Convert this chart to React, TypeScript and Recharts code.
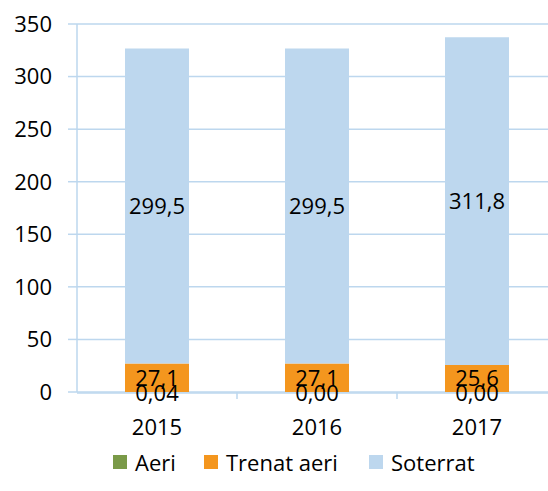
import { BarChart, Bar, XAxis, YAxis, CartesianGrid, LabelList } from "recharts";

const years = ["2015", "2016", "2017"];
const aeri = [0.04, 0, 0];
const trenatAeri = [27.1, 27.1, 25.6];
const soterrat = [299.5, 299.5, 311.8];
const yTicks = [0, 50, 100, 150, 200, 250, 300, 350];

const data = years.map((year, i) => ({
  year,
  pos: i + 0.5,
  aeri: aeri[i],
  trenat: trenatAeri[i],
  soterrat: soterrat[i]
}));

const font = "'Open Sans', Lato, sans-serif";
const gridColor = "#BDD7EE";
const textColor = "#000";
const fontSize = 22;

const series = [
  { key: "aeri", name: "Aeri", color: "#7A9A48" },
  { key: "trenat", name: "Trenat aeri", color: "#F4961E" },
  { key: "soterrat", name: "Soterrat", color: "#BDD7EE" }
];

const fmt = (digits: number) => (v: any) => Number(v).toFixed(digits).replace(".", ",");

// aeri is ~0, so its label is drawn at the foot of the orange segment
function AeriLabel(props: any) {
  const { x, y, width, height, index } = props;
  return (
    <text
      x={x + width / 2}
      y={y + height}
      textAnchor="middle"
      dominantBaseline="central"
      fill={textColor}
      fontSize={fontSize}
    >
      {fmt(2)(aeri[index])}
    </text>
  );
}

function BoundTick(props: any) {
  const { x, y } = props;
  return <line x1={x} x2={x} y1={y} y2={y + 7} stroke={gridColor} strokeWidth={1.5} />;
}

function LegendRow() {
  const lefts = [113, 204, 369];
  return (
    <div style={{ fontFamily: font, fontSize, color: textColor }}>
      {series.map((s, i) => (
        <div
          key={s.key}
          style={{
            position: "absolute",
            left: lefts[i],
            top: 447,
            height: 30,
            display: "flex",
            alignItems: "center",
            whiteSpace: "nowrap"
          }}
        >
          <span style={{ width: 14, height: 14, background: s.color, marginRight: 8 }} />
          <span>{s.name}</span>
        </div>
      ))}
    </div>
  );
}

export default function App() {
  return (
    <div
      style={{
        position: "absolute",
        left: 0,
        top: 0,
        width: 548,
        height: 491,
        overflow: "hidden",
        background: "#fff"
      }}
    >
      <BarChart
        width={560}
        height={491}
        data={data}
        margin={{ top: 24, right: 3, left: 0, bottom: 58 }}
        barCategoryGap="30%"
        style={{ fontFamily: font }}
      >
        <CartesianGrid vertical={false} stroke={gridColor} strokeWidth={1.5} />
        <XAxis
          xAxisId="bounds"
          type="number"
          dataKey="pos"
          domain={[0, 3]}
          ticks={[1, 2]}
          height={1}
          axisLine={false}
          tickLine={false}
          tickSize={0}
          tickMargin={0}
          tick={<BoundTick />}
        />
        <XAxis
          xAxisId="cat"
          dataKey="year"
          height={40}
          axisLine={{ stroke: gridColor, strokeWidth: 1.5 }}
          tickLine={false}
          tick={{ fill: textColor, fontSize }}
          tickMargin={20}
        />
        <YAxis
          width={77}
          domain={[0, 350]}
          ticks={yTicks}
          axisLine={{ stroke: gridColor, strokeWidth: 1.5 }}
          tickLine={{ stroke: gridColor, strokeWidth: 1.5 }}
          tickSize={9}
          tickMargin={16}
          tick={{ fill: textColor, fontSize }}
        />
        <Bar xAxisId="cat" dataKey="aeri" name="Aeri" stackId="a" fill={series[0].color} isAnimationActive={false} />
        <Bar xAxisId="cat" dataKey="trenat" name="Trenat aeri" stackId="a" fill={series[1].color} isAnimationActive={false}>
          <LabelList dataKey="trenat" position="center" formatter={fmt(1)} fill={textColor} fontSize={fontSize} />
          <LabelList dataKey="trenat" content={<AeriLabel />} />
        </Bar>
        <Bar xAxisId="cat" dataKey="soterrat" name="Soterrat" stackId="a" fill={series[2].color} isAnimationActive={false}>
          <LabelList dataKey="soterrat" position="center" formatter={fmt(1)} fill={textColor} fontSize={fontSize} />
        </Bar>
      </BarChart>
      <LegendRow />
    </div>
  );
}
